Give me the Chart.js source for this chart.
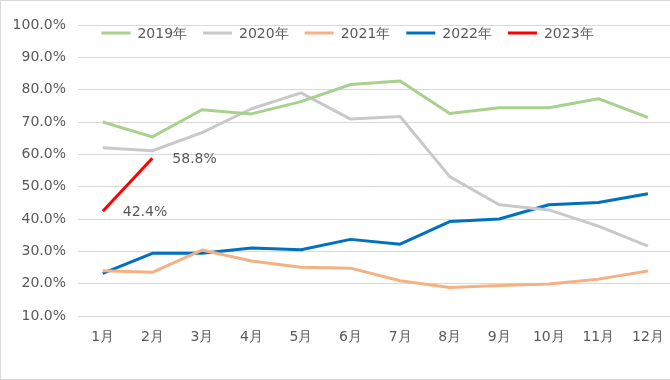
<!DOCTYPE html>
<html>
<head>
<meta charset="utf-8">
<script src="https://cdn.jsdelivr.net/npm/chart.js@4/dist/chart.umd.min.js"></script>
<style>
html,body{margin:0;padding:0;background:#fff;}
#wrap{position:absolute;left:0;top:0;width:670px;height:380px;box-sizing:border-box;border:1px solid #d9d9d9;border-right:none;overflow:hidden;background:#fff;}
canvas{display:block;}
</style>
</head>
<body>
<div id="wrap"><canvas id="c" width="676" height="378" style="width:676px;height:378px"></canvas></div>
<script>
const months = ['1月','2月','3月','4月','5月','6月','7月','8月','9月','10月','11月','12月'];
const seriesNames = ['2019年','2020年','2021年','2022年','2023年'];
const y2019 = [70.0, 65.4, 73.8, 72.5, 76.3, 81.6, 82.7, 72.6, 74.4, 74.4, 77.2, 71.4];
const y2020 = [62.0, 61.1, 66.7, 74.1, 79.0, 70.9, 71.7, 53.1, 44.4, 42.8, 37.8, 31.6];
const y2021 = [24.0, 23.5, 30.4, 27.0, 25.1, 24.8, 20.9, 18.8, 19.4, 19.9, 21.4, 23.9];
const y2022 = [23.2, 29.4, 29.4, 31.0, 30.5, 33.7, 32.2, 39.2, 40.0, 44.4, 45.1, 47.8];
const y2023 = [42.4, 58.8];
const colors = ['#a9d18e', '#c9c9c9', '#f4b183', '#0070c0', '#ff0000'];
const FONT = 'DejaVu Sans';
const TXT = '#595959';

const labelPlugin = {
  id: 'valLabels',
  afterDatasetsDraw(chart) {
    const meta = chart.getDatasetMeta(4);
    const ctx = chart.ctx;
    ctx.save();
    ctx.font = '14px "' + FONT + '"';
    ctx.fillStyle = TXT;
    ctx.textAlign = 'left';
    ctx.textBaseline = 'middle';
    meta.data.forEach((pt, i) => {
      ctx.fillText(y2023[i].toFixed(1) + '%', pt.x + 20, pt.y + 1);
    });
    ctx.restore();
  }
};

const legendPlugin = {
  id: 'topLegend',
  afterDraw(chart) {
    const ctx = chart.ctx;
    ctx.save();
    ctx.font = '14px "' + FONT + '"';
    const lineW = 29, gapText = 7, gapItem = 16;
    const items = chart.data.datasets.map(ds => ({ text: ds.label, color: ds.borderColor, w: ctx.measureText(ds.label).width }));
    const total = items.reduce((s, it) => s + lineW + gapText + it.w, 0) + gapItem * (items.length - 1);
    let x = 346.5 - total / 2;
    const y = 32;
    ctx.textBaseline = 'middle';
    ctx.textAlign = 'left';
    items.forEach(it => {
      ctx.strokeStyle = it.color;
      ctx.lineWidth = 3;
      ctx.beginPath();
      ctx.moveTo(x, y);
      ctx.lineTo(x + lineW, y);
      ctx.stroke();
      ctx.fillStyle = TXT;
      ctx.fillText(it.text, x + lineW + gapText, y + 1);
      x += lineW + gapText + it.w + gapItem;
    });
    ctx.restore();
  }
};

const data = [y2019, y2020, y2021, y2022, y2023];
new Chart(document.getElementById('c'), {
  type: 'line',
  data: {
    labels: months,
    datasets: data.map((d, i) => ({
      label: seriesNames[i],
      data: d,
      borderColor: colors[i],
      backgroundColor: colors[i],
      borderWidth: 3,
      pointRadius: 0,
      tension: 0,
      borderJoinStyle: 'round',
      borderCapStyle: 'butt',
      fill: false
    }))
  },
  options: {
    responsive: false,
    animation: false,
    layout: { padding: { left: 0, right: 4, top: 24, bottom: 0 } },
    plugins: {
      tooltip: { enabled: false },
      legend: { display: false }
    },
    scales: {
      x: {
        type: 'category',
        offset: true,
        grid: { display: false, drawTicks: false },
        border: { display: false },
        ticks: { font: { family: FONT, size: 14 }, color: TXT, padding: 13, maxRotation: 0, autoSkip: false },
        afterFit(scale) { scale.height = 63; }
      },
      y: {
        min: 10,
        max: 100,
        grid: { color: '#d9d9d9', lineWidth: 1, drawTicks: false },
        border: { display: false },
        ticks: {
          stepSize: 10,
          font: { family: FONT, size: 14 },
          color: TXT,
          padding: 12,
          callback: v => v.toFixed(1) + '%'
        },
        afterFit(scale) { scale.width = 77; }
      }
    }
  },
  plugins: [labelPlugin, legendPlugin]
});
</script>
</body>
</html>
